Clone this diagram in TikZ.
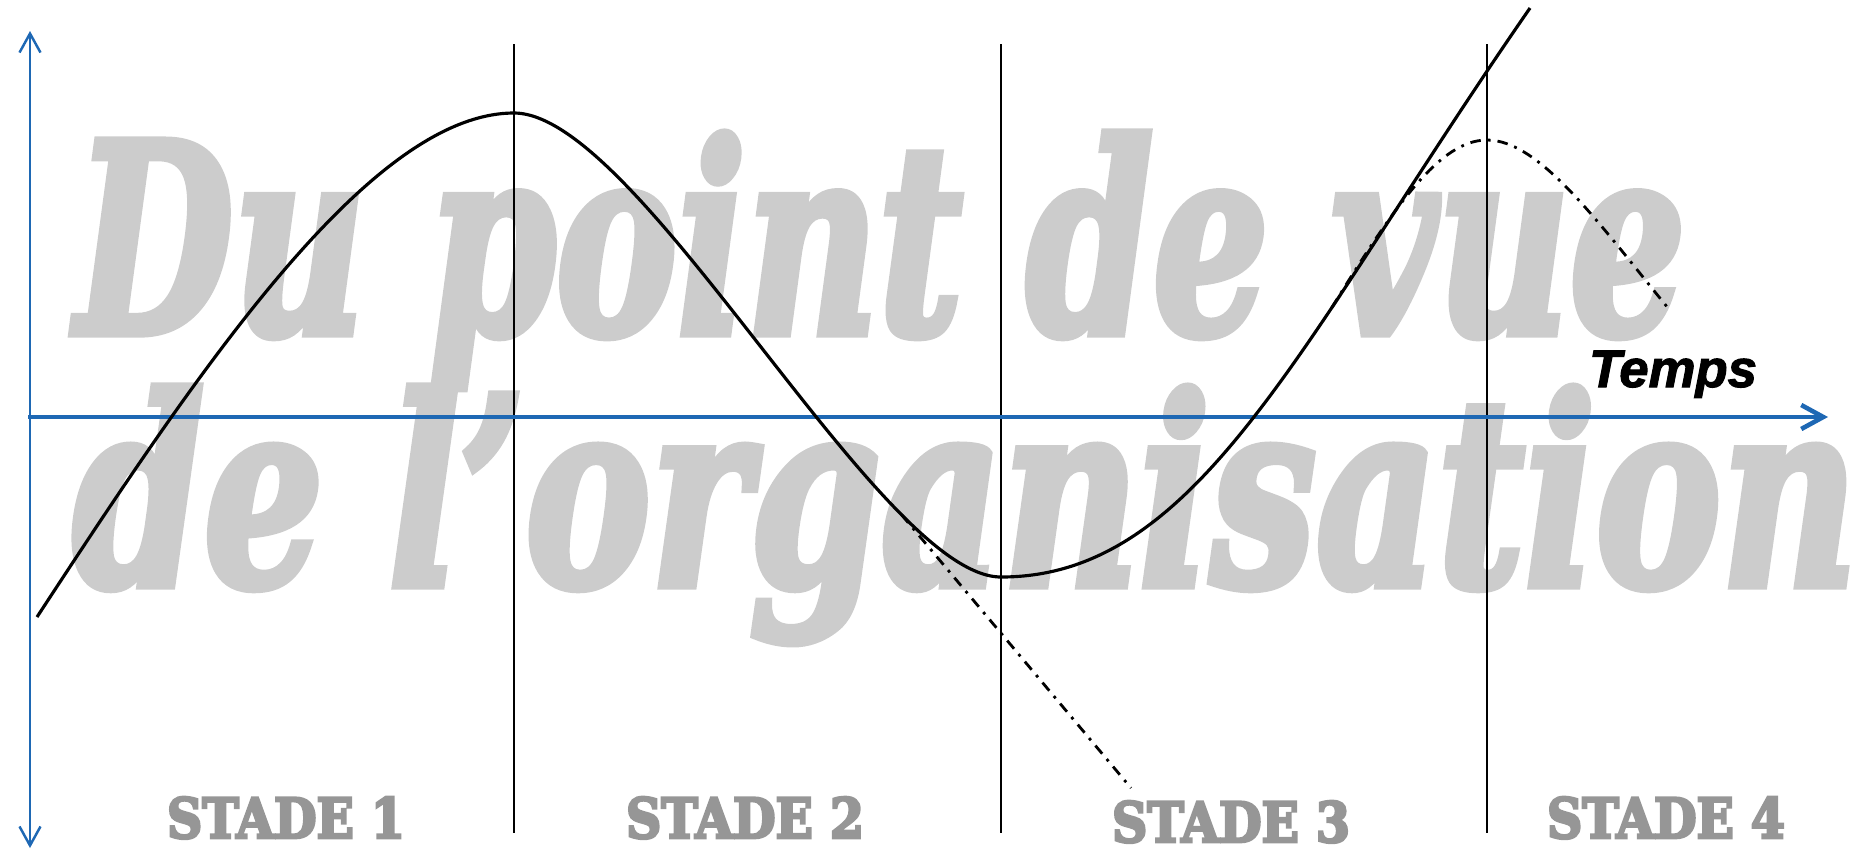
\documentclass[tikz,border=0pt]{standalone}
\usepackage{fontspec}
\usepackage{graphicx}
\usetikzlibrary{positioning, arrows.meta}

\newfontfamily\markfont{DejaVu Serif}[BoldItalicFeatures={FakeBold=3.5}]
\newfontfamily\stadefont{DejaVu Serif}[BoldFeatures={FakeBold=5}]
\newfontfamily\tempsfont{Liberation Sans}[BoldItalicFeatures={FakeBold=2}]

\definecolor{axisblue}{RGB}{30,104,180}
\definecolor{markgray}{RGB}{204,204,204}
\definecolor{stadegray}{RGB}{150,150,150}

\begin{document}
\begin{tikzpicture}[x=0.1mm, y=-0.1mm, >=Stealth]

  % Define styles
  \tikzset{
    axis/.style={draw=axisblue, line width=0.7pt},
    time axis/.style={draw=axisblue, line width=1.3pt},
    stage line/.style={draw=black, line width=0.6pt},
    trend/.style={draw=black, line width=0.9pt},
    forecast/.style={draw=black, line width=0.8pt, dash pattern=on 3pt off 2pt on 0.8pt off 2pt},
    watermark/.style={text=markgray, inner sep=0pt, anchor=base west, font=\markfont\bfseries\itshape},
    stage label/.style={text=stadegray, inner sep=0pt, anchor=base, font=\stadefont\bfseries},
  }

  \useasboundingbox (0,0) rectangle (1870,850);

  % Watermark
  \node[watermark] (mark1) at (75,333) {\resizebox{16.1cm}{2cm}{\raisebox{0pt}[\height][0pt]{Du point de vue}}};
  \node[watermark] (mark2) at (72,585) {\resizebox{17.85cm}{1.98cm}{de l’organisation}};

  % Stage boundaries
  \foreach \sx [count=\i] in {514,1001,1487} {
    \coordinate (top\i) at (\sx,44);
    \coordinate (bot\i) at (\sx,833);
    \draw[stage line] (top\i) -- (bot\i);
  }

  % Axes
  \coordinate (yup) at (30,31);
  \coordinate (ydown) at (30,848);
  \coordinate (origin) at (28,417);
  \coordinate (tend) at (1828,417);
  \draw[axis, {Straight Barb[length=1.9mm, width=2.1mm]}-{Straight Barb[length=1.9mm, width=2.1mm]}] (ydown) -- (yup);
  \draw[time axis, -{Straight Barb[length=2.2mm, width=2.4mm]}] (origin) -- (tend);
  \node[font=\tempsfont\bfseries\itshape\fontsize{15}{18}\selectfont, anchor=base, inner sep=0pt] (temps) at (1673,387) {\raisebox{0pt}[\height][0pt]{Temps}};

  % Life cycle curve
  \coordinate (start) at (37,617);
  \coordinate (peak) at (514,113);
  \coordinate (trough) at (1001,577);
  \coordinate (finish) at (1530,8);
  \draw[trend] (start) .. controls (198,371) and (370,113) .. (peak)
    .. controls (640,113) and (880,577) .. (trough) coordinate[pos=0.77] (fork1)
    .. controls (1200,577) and (1300,340) .. (finish) coordinate[pos=0.66] (fork2);

  % Decline and renewal paths
  \coordinate (drop) at (1131,788);
  \coordinate (crest) at (1487,140);
  \coordinate (fade) at (1668,308);
  \draw[forecast] (fork1) -- (drop);
  \draw[forecast] (fork2) .. controls (1395,205) and (1440,140) .. (crest)
    .. controls (1540,140) and (1600,225) .. (fade);

  % Stage labels
  \foreach \lx/\ly/\n in {286/838/1, 745/838/2, 1231/842/3, 1666/838/4}
    \node[stage label] (stade\n) at (\lx,\ly) {\resizebox{2.38cm}{0.41cm}{STADE \n}};

\end{tikzpicture}
\end{document}
